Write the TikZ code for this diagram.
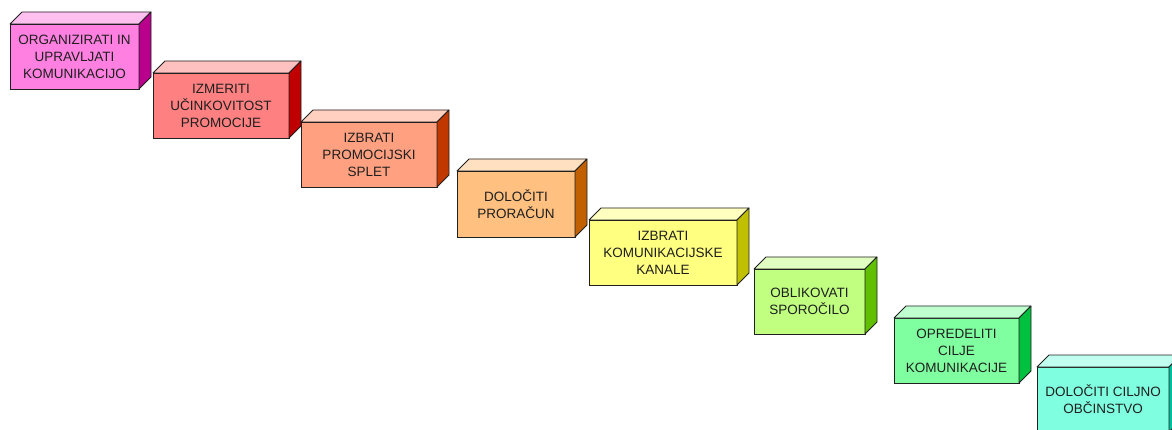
\documentclass[tikz,border=0pt]{standalone}
\usepackage{fontspec}
\setmainfont{Liberation Sans}
\usetikzlibrary{calc}
\definecolor{aF}{HTML}{FF80E0}\definecolor{aT}{HTML}{FFC0F0}\definecolor{aS}{HTML}{B8008C}
\definecolor{bF}{HTML}{FF8080}\definecolor{bT}{HTML}{FFC0C0}\definecolor{bS}{HTML}{C00000}
\definecolor{cF}{HTML}{FFA080}\definecolor{cT}{HTML}{FFD0C0}\definecolor{cS}{HTML}{C03800}
\definecolor{dF}{HTML}{FFC080}\definecolor{dT}{HTML}{FFE0C0}\definecolor{dS}{HTML}{C06000}
\definecolor{eF}{HTML}{FFFF80}\definecolor{eT}{HTML}{FFFFC0}\definecolor{eS}{HTML}{C0C000}
\definecolor{fF}{HTML}{C0FF80}\definecolor{fT}{HTML}{E0FFC0}\definecolor{fS}{HTML}{60C000}
\definecolor{gF}{HTML}{80FFA0}\definecolor{gT}{HTML}{C0FFD0}\definecolor{gS}{HTML}{00C040}
\definecolor{hF}{HTML}{80FFE0}\definecolor{hT}{HTML}{C0FFF0}\definecolor{hS}{HTML}{00C0A0}
\definecolor{edge}{HTML}{202020}
\tikzset{
  frontface/.style={draw=edge, line width=0.8pt, inner sep=0pt, outer sep=0pt,
    align=center, text=black!88, font=\fontsize{13.5}{17}\selectfont},
  sideface/.style={draw=edge, line width=0.8pt, line join=round}
}
\newcommand{\cubebox}[6]{%
  \node[frontface, fill=#5F, minimum width=#3pt, minimum height=#4pt] (#1) at (#2) {#6};
  \draw[sideface, fill=#5T] (#1.north west) -- ++(12,-12) -- ($(#1.north east)+(12,-12)$) -- (#1.north east) -- cycle;
  \draw[sideface, fill=#5S] (#1.north east) -- ($(#1.north east)+(12,-12)$) -- ($(#1.south east)+(12,-12)$) -- (#1.south east) -- cycle;
}
\begin{document}
\begin{tikzpicture}[x=1pt,y=-1pt]
\useasboundingbox (0,0) rectangle (1172,430);
\clip (0,0) rectangle (1172,430);
\cubebox{b1}{74.5,56.5}{129}{65}{a}{ORGANIZIRATI IN\\UPRAVLJATI\\KOMUNIKACIJO}
\cubebox{b2}{221,105.5}{136}{65}{b}{IZMERITI\\UČINKOVITOST\\PROMOCIJE}
\cubebox{b3}{369,154.5}{136}{65}{c}{IZBRATI\\PROMOCIJSKI\\SPLET}
\cubebox{b4}{516,204}{118}{66}{d}{DOLOČITI\\PRORAČUN}
\cubebox{b5}{663,252.5}{148}{65}{e}{IZBRATI\\KOMUNIKACIJSKE\\KANALE}
\cubebox{b6}{809.5,301.5}{111}{65}{f}{OBLIKOVATI\\SPOROČILO}
\cubebox{b7}{956.5,350.5}{125}{65}{g}{OPREDELITI\\CILJE\\KOMUNIKACIJE}
\cubebox{b8}{1103,399.5}{132}{65}{h}{DOLOČITI CILJNO\\OBČINSTVO}
\end{tikzpicture}
\end{document}
